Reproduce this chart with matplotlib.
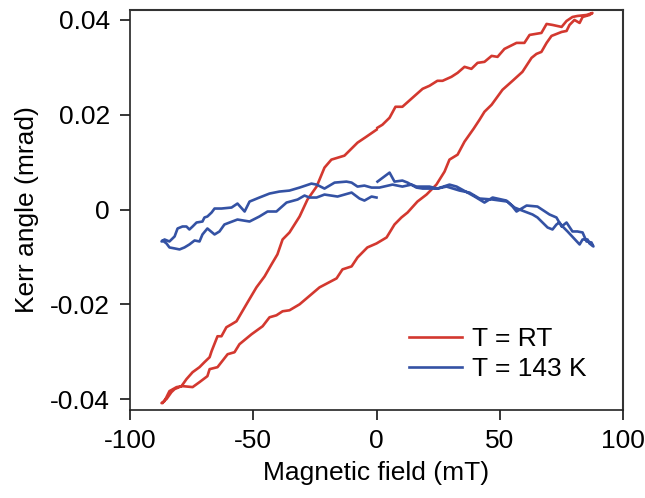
import numpy as np
import matplotlib
matplotlib.use("Agg")
import matplotlib.pyplot as plt

plt.rcParams['font.family'] = ['Liberation Sans', 'DejaVu Sans']
plt.rcParams['axes.unicode_minus'] = False

# T = RT loop (field in mT, Kerr angle in mrad)
rt_field = [
    0.4, 2.4, 5.3, 7.7, 10.5, 14.6, 18.7, 21.5, 24.7, 26.8, 30.4, 32.9, 35.7, 38.5,
    41.0, 43.8, 46.7, 49.1, 51.9, 56.8, 60.0, 62.1, 66.9, 69.0, 71.4, 75.1, 77.1,
    79.5, 81.5, 85.2, 87.6,
    86.4, 83.6, 82.4, 80.3, 78.3, 77.1, 75.1, 71.0, 69.0, 66.9, 64.9, 62.9, 59.2,
    55.2, 51.1, 46.7, 43.8, 41.8, 39.4, 35.7, 32.9, 29.6, 27.6, 24.3, 20.3, 16.6,
    12.6, 10.1, 7.3, 4.1, 0.0, -3.7, -7.7, -10.1, -13.8, -16.2, -23.1, -31.2,
    -35.3, -38.1, -40.6, -43.4, -46.2, -50.7, -55.6, -57.6, -60.4, -64.5, -67.7,
    -68.6, -71.8, -74.6, -78.7, -81.1, -84.0, -86.0, -87.2,
    -86.8, -85.6, -85.2, -83.2, -81.9, -79.1, -77.1, -74.6, -71.8, -69.8, -67.7,
    -66.9, -64.5, -62.9, -60.9, -58.8, -56.8, -52.3, -48.7, -45.4, -42.6, -40.2,
    -38.1, -35.3, -31.2, -28.0, -24.3, -21.1, -18.3, -13.0, -7.7, -4.1, 0.0,
]
rt_kerr = [
    0.01726, 0.01789, 0.01937, 0.02168, 0.02168, 0.02358, 0.02547, 0.02611, 0.02716,
    0.02716, 0.02800, 0.02884, 0.03011, 0.02968, 0.03095, 0.03116, 0.03242, 0.03221,
    0.03389, 0.03516, 0.03516, 0.03684, 0.03726, 0.03916, 0.03895, 0.03853, 0.03979,
    0.04063, 0.04084, 0.04105, 0.04147,
    0.04105, 0.04063, 0.03937, 0.04000, 0.03895, 0.03768, 0.03747, 0.03663, 0.03516,
    0.03326, 0.03284, 0.03200, 0.02905, 0.02716, 0.02526, 0.02211, 0.02063, 0.01895,
    0.01705, 0.01432, 0.01158, 0.01053, 0.00800, 0.00526, 0.00316, 0.00168, -0.00063,
    -0.00168, -0.00316, -0.00589, -0.00716, -0.00800, -0.01011, -0.01200, -0.01263,
    -0.01453, -0.01642, -0.02000, -0.02126, -0.02147, -0.02232, -0.02274, -0.02463,
    -0.02632, -0.02842, -0.03011, -0.03053, -0.03326, -0.03368, -0.03516, -0.03642,
    -0.03747, -0.03726, -0.03747, -0.03832, -0.04042, -0.04084,
    -0.04084, -0.04000, -0.04000, -0.03853, -0.03789, -0.03726, -0.03579, -0.03432,
    -0.03326, -0.03221, -0.03116, -0.02989, -0.02674, -0.02674, -0.02484, -0.02421,
    -0.02358, -0.01958, -0.01642, -0.01411, -0.01158, -0.00947, -0.00632, -0.00484,
    -0.00147, 0.00211, 0.00484, 0.00884, 0.01053, 0.01137, 0.01411, 0.01537, 0.01684,
]

# T = 143 K loop
lt_field = [
    0.4, 5.3, 7.3, 10.5, 12.6, 16.2, 18.7, 24.7, 29.6, 32.5, 36.9, 39.8, 43.8, 47.1,
    52.7, 55.2, 56.8, 60.9, 65.3, 70.2, 73.0, 75.1, 77.1, 79.5, 81.5, 83.6, 85.2,
    87.2, 88.0,
    86.4, 85.6, 83.6, 82.4, 77.5, 75.5, 74.2, 73.0, 71.4, 69.4, 65.3, 63.3, 58.0,
    56.0, 53.1, 47.1, 41.8, 37.7, 33.7, 28.4, 24.7, 21.5, 16.2, 14.2, 10.5, 6.5,
    1.2, -2.0, -4.9, -7.7, -10.1, -12.2, -17.0, -21.1, -24.3, -26.4, -31.2, -35.3,
    -39.4, -43.4, -47.5, -51.5, -53.5, -56.4, -58.8, -62.9, -65.7, -66.9, -68.6,
    -69.8, -70.6, -73.0, -74.6, -75.9, -77.1, -78.7, -80.7, -81.9, -84.0, -86.0,
    -87.2,
    -86.8, -85.2, -84.0, -81.9, -79.9, -77.9, -75.9, -73.8, -71.8, -70.6, -68.6,
    -65.7, -63.7, -61.7, -59.6, -56.4, -51.5, -47.5, -44.2, -40.6, -36.5, -32.0,
    -29.2, -27.2, -24.3, -21.1, -15.8, -10.1, -6.9, -4.9, -2.0, 0.0,
]
lt_kerr = [
    0.00589, 0.00779, 0.00589, 0.00611, 0.00568, 0.00463, 0.00442, 0.00442, 0.00526,
    0.00484, 0.00358, 0.00274, 0.00147, 0.00253, 0.00189, 0.00063, -0.00042, 0.00084,
    0.00063, -0.00105, -0.00168, -0.00358, -0.00274, -0.00463, -0.00463, -0.00484,
    -0.00674, -0.00695, -0.00779,
    -0.00716, -0.00632, -0.00632, -0.00737, -0.00463, -0.00358, -0.00274, -0.00316,
    -0.00421, -0.00379, -0.00168, -0.00105, 0.0, 0.00042, 0.00168, 0.00211, 0.00232,
    0.00358, 0.00400, 0.00484, 0.00442, 0.00484, 0.00484, 0.00526, 0.00484, 0.00526,
    0.00463, 0.00463, 0.00505, 0.00484, 0.00568, 0.00589, 0.00568, 0.00442, 0.00526,
    0.00547, 0.00463, 0.00400, 0.00379, 0.00337, 0.00253, 0.00168, -0.00042, 0.00126,
    0.00042, 0.00021, 0.00021, -0.00063, -0.00147, -0.00168, -0.00253, -0.00274,
    -0.00358, -0.00421, -0.00358, -0.00358, -0.00400, -0.00568, -0.00674, -0.00632,
    -0.00674,
    -0.00653, -0.00716, -0.00800, -0.00821, -0.00842, -0.00800, -0.00737, -0.00653,
    -0.00674, -0.00526, -0.00400, -0.00526, -0.00463, -0.00316, -0.00274, -0.00211,
    -0.00253, -0.00147, -0.00042, -0.00042, 0.00147, 0.00211, 0.00295, 0.00253,
    0.00253, 0.00316, 0.00274, 0.00358, 0.00232, 0.00189, 0.00274, 0.00253,
]

x_ticks = [-100, -50, 0, 50, 100]
y_ticks = [-0.04, -0.02, 0.0, 0.02, 0.04]
y_tick_labels = ["-0.04", "-0.02", "0", "0.02", "0.04"]

red = "#d3382f"
blue = "#3452a4"

fig = plt.figure(figsize=(6.45, 4.98), dpi=100)
ax = fig.add_axes([130 / 645, 1 - 410 / 498, 493 / 645, 400 / 498])

ax.plot(rt_field, rt_kerr, color=red, lw=1.9, label="T = RT")
ax.plot(lt_field, lt_kerr, color=blue, lw=1.9, label="T = 143 K")

ax.set_xlim(-100, 100)
ax.set_ylim(-0.0423, 0.0421)
ax.set_xticks(x_ticks)
ax.set_yticks(y_ticks)
ax.set_yticklabels(y_tick_labels)

ax.tick_params(axis="both", direction="out", length=7.5, width=1.1, labelsize=19,
               top=False, right=False)
ax.tick_params(axis="y", pad=7)
ax.tick_params(axis="x", pad=6)
for side in ["left", "bottom"]:
    ax.spines[side].set_linewidth(1.2)
    ax.spines[side].set_color("#222222")
for side in ["top", "right"]:
    ax.spines[side].set_linewidth(1.5)
    ax.spines[side].set_color("#333333")

ax.set_xlabel("Magnetic field (mT)", fontsize=19, labelpad=6)
ax.set_ylabel("Kerr angle (mrad)", fontsize=19, labelpad=8)

ax.legend(loc="upper left", bbox_to_anchor=((409 - 130) / 493, 0.207),
          frameon=False, fontsize=19, handlelength=2.0, handletextpad=0.4,
          labelspacing=0.22, borderpad=0, borderaxespad=0)

fig.savefig("out.png", dpi=100)
